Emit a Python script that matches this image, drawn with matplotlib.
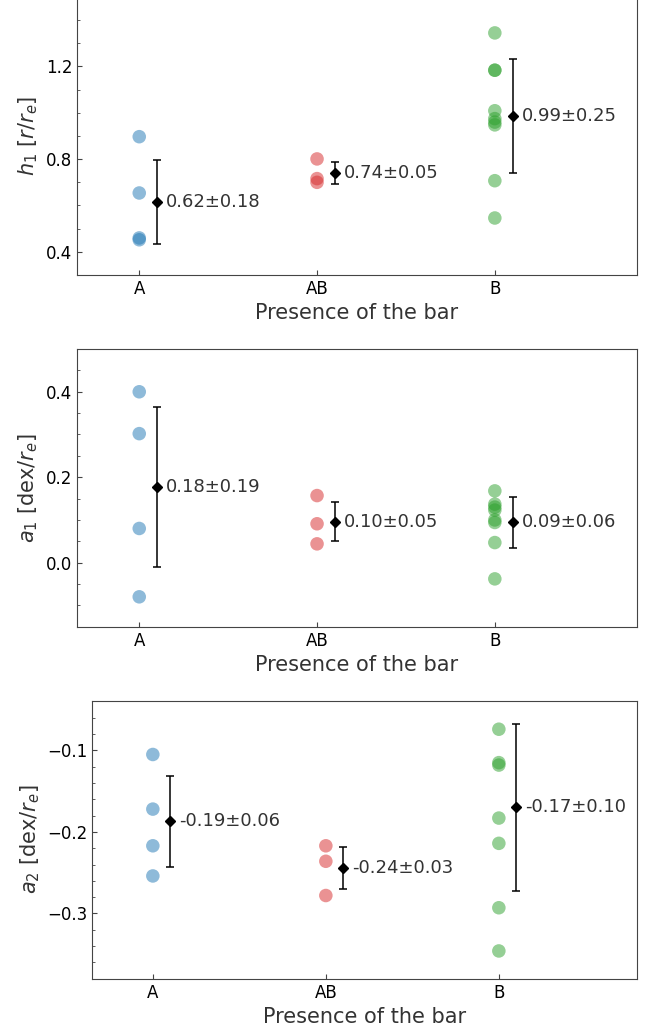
import matplotlib
matplotlib.use('Agg')
import matplotlib.pyplot as plt
from matplotlib.ticker import MultipleLocator

# Категории по наличию бара
categories = ['A', 'AB', 'B']
colors = ['tab:blue', 'tab:red', 'tab:green']

# h1 [r/r_e]
h1_A = [0.897, 0.654, 0.460, 0.452]
h1_AB = [0.801, 0.716, 0.700]
h1_B = [1.345, 1.184, 1.184, 1.009, 0.975, 0.960, 0.948, 0.707, 0.546]
h1_mean = [0.616, 0.740, 0.986]
h1_std = [0.181, 0.046, 0.247]

# a1 [dex/r_e]
a1_A = [0.400, 0.302, 0.080, -0.080]
a1_AB = [0.157, 0.091, 0.044]
a1_B = [0.168, 0.137, 0.130, 0.123, 0.100, 0.094, 0.047, -0.038]
a1_mean = [0.177, 0.096, 0.094]
a1_std = [0.187, 0.046, 0.060]

# a2 [dex/r_e]
a2_A = [-0.105, -0.172, -0.217, -0.254]
a2_AB = [-0.217, -0.236, -0.278]
a2_B = [-0.074, -0.115, -0.118, -0.183, -0.214, -0.293, -0.346]
a2_mean = [-0.187, -0.244, -0.170]
a2_std = [0.056, 0.026, 0.103]

panels = [
    dict(groups=[h1_A, h1_AB, h1_B], mean=h1_mean, std=h1_std,
         ylabel=r'$h_1$ [$r/r_e$]', ylim=(0.3, 1.5), major=0.4, minor=0.1,
         rect=[0.1176, 0.7338, 0.855, 0.2691]),
    dict(groups=[a1_A, a1_AB, a1_B], mean=a1_mean, std=a1_std,
         ylabel=r'$a_1$ [dex/$r_e$]', ylim=(-0.15, 0.5), major=0.2, minor=0.05,
         rect=[0.1176, 0.3933, 0.855, 0.2688]),
    dict(groups=[a2_A, a2_AB, a2_B], mean=a2_mean, std=a2_std,
         ylabel=r'$a_2$ [dex/$r_e$]', ylim=(-0.380, -0.039), major=0.1, minor=0.02,
         rect=[0.1409, 0.0526, 0.832, 0.2691]),
]

text_color = '#333333'
spine_color = '#444444'

fig = plt.figure(figsize=(6.55, 10.33), dpi=100)

for p in panels:
    ax = fig.add_axes(p['rect'])
    for i, (vals, c) in enumerate(zip(p['groups'], colors)):
        ax.scatter([i] * len(vals), vals, s=95, color=c, alpha=0.5,
                   edgecolors='none', zorder=2)
    for i, (m, s) in enumerate(zip(p['mean'], p['std'])):
        ax.errorbar(i + 0.1, m, yerr=s, fmt='D', color='black', ms=5,
                    capsize=3, elinewidth=1.1, capthick=1.1, zorder=3)
        ax.text(i + 0.15, m, f'{m:.2f}\u00b1{s:.2f}', fontsize=13,
                color=text_color, va='center', ha='left')

    ax.set_xlim(-0.35, 2.8)
    ax.set_ylim(*p['ylim'])
    ax.set_xticks(range(len(categories)))
    ax.set_xticklabels(categories)
    ax.yaxis.set_major_locator(MultipleLocator(p['major']))
    ax.yaxis.set_minor_locator(MultipleLocator(p['minor']))
    ax.tick_params(axis='both', which='both', direction='in', colors=spine_color,
                   labelcolor='black', labelsize=12)
    ax.tick_params(axis='y', which='minor', length=2)
    ax.set_xlabel('Presence of the bar', fontsize=15, color=text_color)
    ax.set_ylabel(p['ylabel'], fontsize=15, color=text_color)
    for sp in ax.spines.values():
        sp.set_color(spine_color)

plt.savefig('out.png', dpi=100)
plt.close()
